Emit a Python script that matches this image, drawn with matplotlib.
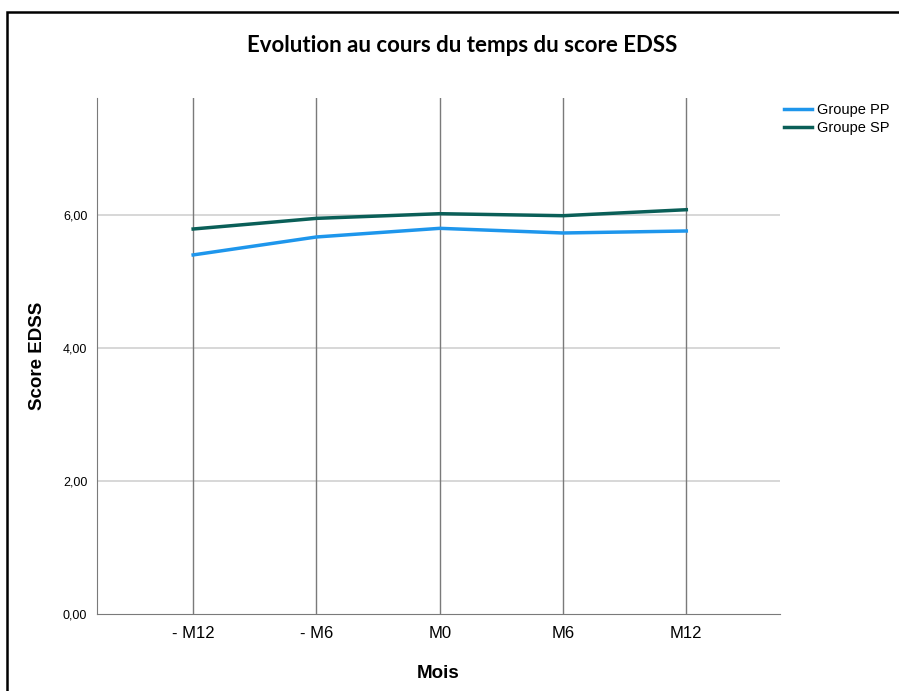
import matplotlib
matplotlib.use("Agg")
import matplotlib.pyplot as plt
from matplotlib.patches import Rectangle

categories = ["- M12", "- M6", "M0", "M6", "M12"]
groupe_pp = [5.40, 5.67, 5.80, 5.73, 5.76]
groupe_sp = [5.79, 5.95, 6.02, 5.99, 6.08]
yticks = [0, 2, 4, 6]
ytick_labels = ["0,00", "2,00", "4,00", "6,00"]

fig = plt.figure(figsize=(8.99, 6.91), dpi=100)
fig.patches.append(Rectangle((7/899, -0.05), 1.1, 1 - 12/691 + 0.05, transform=fig.transFigure,
                             fill=False, edgecolor="black", linewidth=1.8))
ax = fig.add_axes([97/899, 1 - 614/691, (780 - 97)/899, (614 - 98)/691])

x = list(range(len(categories)))
ax.plot(x, groupe_pp, color="#1E96EC", linewidth=2.5, label="Groupe PP", zorder=3)
ax.plot(x, groupe_sp, color="#0A5F58", linewidth=2.5, label="Groupe SP", zorder=3)

ax.set_xlim(-0.78, 4.76)
ax.set_ylim(0, 7.76)
for xi in x:
    ax.axvline(xi, color="#7a7a7a", linewidth=1.0, zorder=1)
for yv in yticks[1:]:
    ax.axhline(yv, color="#d4d4d4", linewidth=1.3, zorder=0)

ax.set_xticks(x)
ax.set_xticklabels(categories, fontfamily="Liberation Sans", fontsize=12)
ax.set_yticks(yticks)
ax.set_yticklabels(ytick_labels, fontfamily="Liberation Sans", fontsize=9)
ax.tick_params(length=0, pad=7)
ax.tick_params(axis="x", pad=9)
for s in ["top", "right"]:
    ax.spines[s].set_visible(False)
ax.spines["left"].set_color("#7a7a7a")
ax.spines["bottom"].set_color("#7a7a7a")

ax.set_xlabel("Mois", fontfamily="Liberation Sans", fontsize=13.5, fontweight="bold", labelpad=17)
ax.set_ylabel("Score EDSS", fontfamily="Liberation Sans", fontsize=13.5, fontweight="bold", labelpad=12)

fig.text(462/899, 1 - 45/691, "Evolution au cours du temps du score EDSS", ha="center", va="center",
         fontfamily="Lato", fontsize=16, fontweight="bold")

leg = fig.legend(loc="upper left", bbox_to_anchor=(778/899, 1 - 97/691), frameon=False,
                 prop={"family": "Liberation Sans", "size": 10.5}, handlelength=1.9,
                 handletextpad=0.4, labelspacing=0.3, borderaxespad=0)

fig.savefig("out.png", dpi=100)
